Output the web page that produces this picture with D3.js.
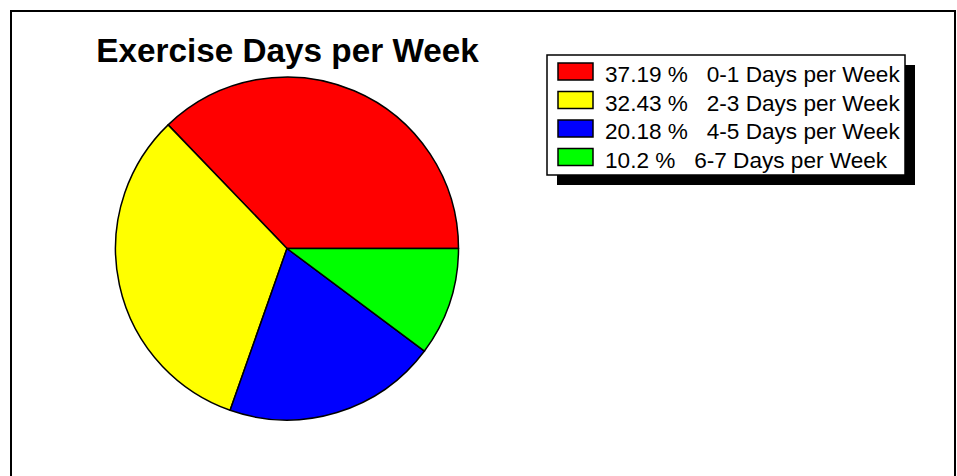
<!DOCTYPE html>
<html>
<head>
<meta charset="utf-8">
<script src="https://cdn.jsdelivr.net/npm/d3@7"></script>
<style>
  body { margin: 0; background: #fff; }
  svg { display: block; font-family: Arial, "Liberation Sans", sans-serif; }
</style>
</head>
<body>
<svg width="957" height="476"></svg>
<script>
// chart data
var categories = ["0-1 Days per Week", "2-3 Days per Week", "4-5 Days per Week", "6-7 Days per Week"];
var percents = [37.19, 32.43, 20.18, 10.2];
var colours = ["#ff0000", "#ffff00", "#0000ff", "#00ff00"];
var title = "Exercise Days per Week";

var svg = d3.select("svg"),
    width = +svg.attr("width"),
    height = +svg.attr("height");

// outer frame (runs off the bottom of the window)
svg.append("rect")
    .attr("x", 11).attr("y", 11)
    .attr("width", 944).attr("height", 500)
    .attr("fill", "#fff")
    .attr("stroke", "#000")
    .attr("stroke-width", 2);

svg.append("text")
    .attr("x", 287.5)
    .attr("y", 62)
    .attr("text-anchor", "middle")
    .attr("font-weight", "bold")
    .attr("font-size", 33.3)
    .text(title);

// pie, counter-clockwise from 3 o'clock
var cx = 287, cy = 248.5, radius = 171.5;
var g = svg.append("g").attr("transform", "translate(" + cx + "," + cy + ")");

var pie = d3.pie()
    .sort(null)
    .startAngle(Math.PI / 2)
    .endAngle(Math.PI / 2 - 2 * Math.PI)
    .value(function(d) { return d; });

var arc = d3.arc().innerRadius(0).outerRadius(radius);
var z = d3.scaleOrdinal().domain(categories).range(colours);

g.selectAll("path")
    .data(pie(percents))
    .enter().append("path")
      .attr("d", arc)
      .attr("fill", function(d, i) { return z(categories[i]); })
      .attr("stroke", "#000")
      .attr("stroke-width", 1.5)
      .attr("stroke-linejoin", "round");

// legend with drop shadow
var lx = 547, ly = 55, lw = 358, lh = 120;
svg.append("rect")
    .attr("x", lx + 10).attr("y", ly + 10)
    .attr("width", lw).attr("height", lh)
    .attr("fill", "#000");
svg.append("rect")
    .attr("x", lx).attr("y", ly)
    .attr("width", lw).attr("height", lh)
    .attr("fill", "#fff")
    .attr("stroke", "#000")
    .attr("stroke-width", 1.5);

var row = d3.scaleBand().domain(categories).range([ly + 4, ly + lh - 2]);

var legend = svg.selectAll(".legend")
    .data(categories)
    .enter().append("g")
      .attr("class", "legend")
      .attr("transform", function(d) { return "translate(" + (lx + 11) + "," + row(d) + ")"; });

legend.append("rect")
    .attr("y", 4)
    .attr("width", 35)
    .attr("height", 17)
    .attr("fill", z)
    .attr("stroke", "#000")
    .attr("stroke-width", 1.5);

legend.append("text")
    .attr("x", 47)
    .attr("y", 23)
    .attr("font-size", 22.6)
    .style("white-space", "pre")
    .text(function(d, i) { return percents[i] + " %   " + d; });
</script>
</body>
</html>
